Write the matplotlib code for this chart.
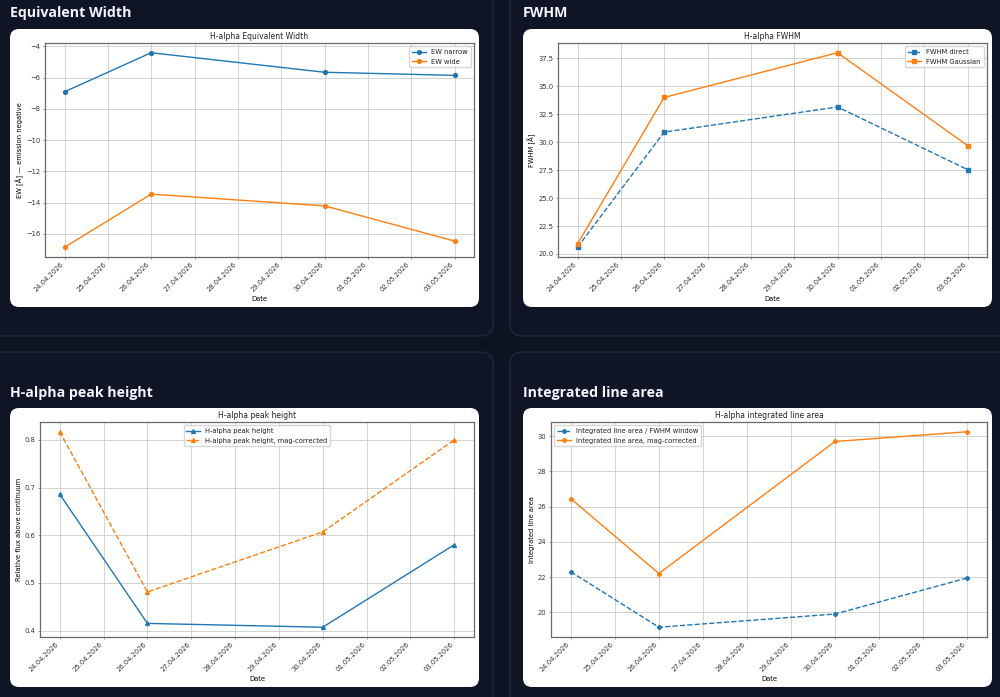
import numpy as np
import pandas as pd
import matplotlib
matplotlib.use("Agg")
import matplotlib.pyplot as plt
import matplotlib.dates as mdates
from matplotlib.patches import FancyBboxPatch

# observation dates
dates = pd.to_datetime(["2026-04-24", "2026-04-26", "2026-04-30", "2026-05-03"])

ew_narrow = [-6.9, -4.4, -5.65, -5.85]
ew_wide = [-16.85, -13.45, -14.2, -16.45]

fwhm_direct = [20.6, 30.9, 33.15, 27.55]
fwhm_gauss = [20.9, 34.0, 38.0, 29.7]

peak = [0.686, 0.415, 0.407, 0.580]
peak_corr = [0.817, 0.481, 0.607, 0.800]

area_fwhm = [22.3, 19.15, 19.9, 21.95]
area_corr = [26.45, 22.2, 29.7, 30.25]

W, H = 1000, 697
S = 0.46  # the plots are shown shrunk inside the dashboard

plt.rcParams.update({
    "font.family": "DejaVu Sans",
    "font.size": 10 * 0.49,
    "axes.titlesize": 12 * S,
    "axes.titlepad": 6 * S,
    "axes.labelpad": 4 * S,
    "axes.linewidth": 0.9,
    "axes.edgecolor": "#6a6a6a",
    "lines.linewidth": 1.0,
    "lines.markersize": 6 * S,
    "grid.linewidth": 0.7,
    "grid.color": "#c8c8c8",
    "xtick.major.size": 3.5 * S,
    "ytick.major.size": 3.5 * S,
    "xtick.major.width": 0.8 * S,
    "ytick.major.width": 0.8 * S,
    "xtick.major.pad": 3.5 * S,
    "ytick.major.pad": 3.5 * S,
    "text.color": "#222222",
    "xtick.color": "#333333",
    "ytick.color": "#333333",
})

bg = "#0e1421"
fig = plt.figure(figsize=(W / 100, H / 100), dpi=100, facecolor=bg)

# background layer in pixel units
back = fig.add_axes([0, 0, 1, 1])
back.set_xlim(0, W)
back.set_ylim(H, 0)
back.axis("off")

cards = [(-20, -20, 493, 336), (510, -20, 1030, 336),
         (-20, 352, 493, 720), (510, 352, 1030, 720)]
for x0, y0, x1, y1 in cards:
    back.add_patch(FancyBboxPatch((x0, y0), x1 - x0, y1 - y0,
                                  boxstyle="round,pad=0,rounding_size=13",
                                  fc="#0f1524", ec="#1f2a3c", lw=1.0))

panels = [(10, 29, 479, 307), (523, 29, 992, 307),
          (10, 408, 479, 687), (523, 408, 992, 687)]
for x0, y0, x1, y1 in panels:
    back.add_patch(FancyBboxPatch((x0, y0), x1 - x0, y1 - y0,
                                  boxstyle="round,pad=0,rounding_size=9",
                                  fc="white", ec="none"))

headings = [("Equivalent Width", 10, 13), ("FWHM", 523, 13),
            ("H-alpha peak height", 10, 393), ("Integrated line area", 523, 393)]
for txt, x, y in headings:
    back.text(x, y, txt, color="#f2f6ff", fontsize=10.2, fontweight="bold",
              family="Open Sans", ha="left", va="center")


def px_axes(x0, y0, x1, y1):
    return fig.add_axes([x0 / W, 1 - y1 / H, (x1 - x0) / W, (y1 - y0) / H])


def style_axes(ax, title, ylabel):
    ax.set_title(title)
    ax.set_xlabel("Date")
    ax.set_ylabel(ylabel)
    ax.grid(True, alpha=0.8)
    ax.xaxis.set_major_locator(mdates.DayLocator())
    ax.xaxis.set_major_formatter(mdates.DateFormatter("%d.%m.%Y"))
    plt.setp(ax.get_xticklabels(), rotation=45, ha="right")


ax1 = px_axes(45, 43, 474, 257)
ax1.plot(dates, ew_narrow, marker="o", label="EW narrow")
ax1.plot(dates, ew_wide, marker="o", label="EW wide")
ax1.legend(loc="upper right")
style_axes(ax1, "H-alpha Equivalent Width", "EW [Å] — emission negative")

ax2 = px_axes(558, 43, 987, 257)
ax2.plot(dates, fwhm_direct, marker="s", ls="--", label="FWHM direct")
ax2.plot(dates, fwhm_gauss, marker="s", label="FWHM Gaussian")
ax2.legend(loc="upper right")
style_axes(ax2, "H-alpha FWHM", "FWHM [Å]")

ax3 = px_axes(40, 422, 474, 637)
ax3.plot(dates, peak, marker="^", label="H-alpha peak height")
ax3.plot(dates, peak_corr, marker="^", ls="--", label="H-alpha peak height, mag-corrected")
ax3.legend(loc="upper center")
style_axes(ax3, "H-alpha peak height", "Relative flux above continuum")

ax4 = px_axes(551, 422, 987, 637)
ax4.plot(dates, area_fwhm, marker="P", ls="--", label="Integrated line area / FWHM window")
ax4.plot(dates, area_corr, marker="P", label="Integrated line area, mag-corrected")
ax4.legend(loc="upper left")
style_axes(ax4, "H-alpha integrated line area", "Integrated line area")

fig.savefig("out.png", dpi=100, facecolor=bg)
